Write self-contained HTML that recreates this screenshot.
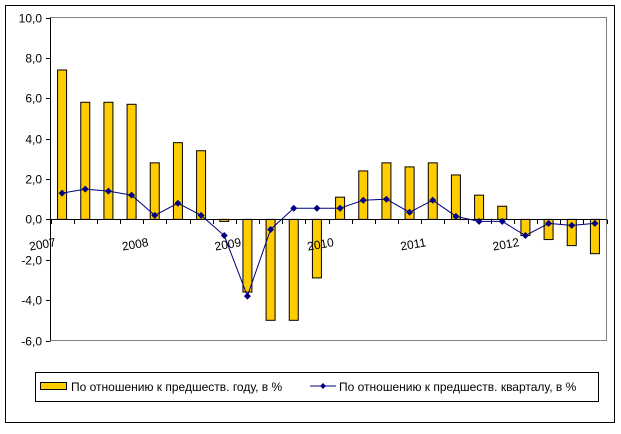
<!DOCTYPE html>
<html><head><meta charset="utf-8"><style>
body{margin:0;background:#fff;font-family:"Liberation Sans",Arial,sans-serif;}
svg text{font-family:"Liberation Sans",Arial,sans-serif;font-size:12px;fill:#000;}
</style></head><body>
<svg id="chart" width="621" height="429" xmlns="http://www.w3.org/2000/svg">
<rect x="5.5" y="5.5" width="609" height="417" fill="#fff" stroke="#000"/>
<rect x="50.5" y="17.5" width="556" height="323" fill="#fff" stroke="#808080"/>
<g id="yaxis"></g><g id="bars"></g><g id="xaxis"></g><g id="line"></g>
<g>
<rect x="35.5" y="372.5" width="563" height="29" fill="#fff" stroke="#000"/>
<rect x="40.5" y="382.5" width="26" height="7" fill="#FFCC00" stroke="#000"/>
<text x="71" y="391">По отношению к предшеств. году, в %</text>
<line x1="310" y1="386" x2="336" y2="386" stroke="#000080"/>
<path d="M323 383 L326 386 L323 389 L320 386Z" fill="#000080"/>
<text x="339" y="391">По отношению к предшеств. кварталу, в %</text>
</g>
</svg>
<script>
const years = ["2007","2008","2009","2010","2011","2012"];
const yoy = [7.4,5.8,5.8,5.7,2.8,3.8,3.4,-0.1,-3.6,-5.0,-5.0,-2.9,1.1,2.4,2.8,2.6,2.8,2.2,1.2,0.65,-0.8,-1.0,-1.3,-1.7];
const qoq = [1.3,1.5,1.4,1.2,0.2,0.8,0.2,-0.8,-3.8,-0.5,0.55,0.55,0.55,0.95,1.0,0.35,0.95,0.15,-0.1,-0.1,-0.8,-0.2,-0.3,-0.2];
const yTicks = [10,8,6,4,2,0,-2,-4,-6];

const NS="http://www.w3.org/2000/svg";
const X0=50.5, X1=606.5, Y0=17.5, Y1=340.5, n=yoy.length;
const step=(X1-X0)/n;
function yS(v){return Y0+(10-v)/16*(Y1-Y0);}
function xC(i){return X0+step*(i+0.5);}
function mk(t,a,p){const e=document.createElementNS(NS,t);for(const k in a)e.setAttribute(k,a[k]);(p||document.getElementById('chart')).appendChild(e);return e;}

const ya=document.getElementById('yaxis');
yTicks.forEach(v=>{
  const y=Math.round(yS(v))+0.5;
  const l=mk('line',{x1:46,x2:50.5,y1:y,y2:y,stroke:'#000'},ya);
  
  
  const t=mk('text',{x:42,y:y+4,'text-anchor':'end'},ya);
  
  
  t.textContent=v.toFixed(1).replace('.',',');
});
const yl=mk('line',{x1:50.5,x2:50.5,y1:Y0,y2:Y1,stroke:'#000'},ya);



const bg=document.getElementById('bars');
const z=yS(0);
yoy.forEach((v,i)=>{
  const y=yS(v);
  const r=mk('rect',{x:xC(i)-4.5,y:Math.min(y,z),width:9,height:Math.max(Math.abs(z-y),1),fill:'#FFCC00',stroke:'#000','stroke-width':1},bg);
  
  
});

const xa=document.getElementById('xaxis');
const zl=mk('line',{x1:X0,x2:X1,y1:Math.round(z)+0.5,y2:Math.round(z)+0.5,stroke:'#000'},xa);


for(let i=0;i<=n;i++){
  const x=Math.round(X0+step*i)+0.5;
  const t=mk('line',{x1:x,x2:x,y1:Math.round(z)+0.5,y2:Math.round(z)+5,stroke:'#000'},xa);
  
  
}
years.forEach((yr,k)=>{
  const x=X0+step*4*k-8;
  const t=mk('text',{x:x,y:z+29,'text-anchor':'middle',transform:'rotate(-10 '+x+' '+(z+25)+')'},xa);
  
  
  t.textContent=yr;
});

const lg=document.getElementById('line');
const p=mk('polyline',{points:qoq.map((v,i)=>xC(i)+','+yS(v)).join(' '),fill:'none',stroke:'#000080','stroke-width':1},lg);


qoq.forEach((v,i)=>{
  const x=xC(i),y=yS(v);
  const m=mk('path',{d:`M${x} ${y-3.5}L${x+3.5} ${y}L${x} ${y+3.5}L${x-3.5} ${y}Z`,fill:'#000080'},lg);
  
  
});
</script>
</body></html>
